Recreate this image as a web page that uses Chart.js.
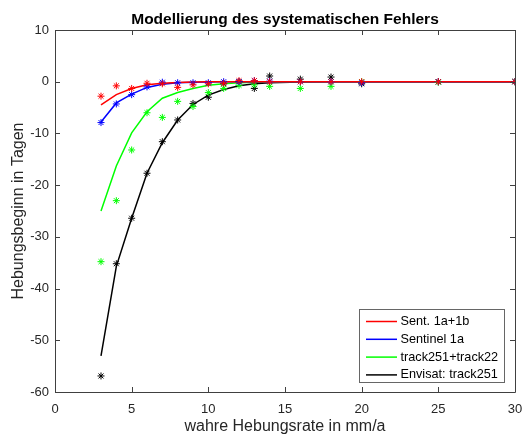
<!DOCTYPE html>
<html>
<head>
<meta charset="utf-8">
<script src="https://cdn.jsdelivr.net/npm/chart.js@4"></script>
<style>
  body { margin: 0; background: #fff; }
  #wrap { width: 523px; height: 436px; }
</style>
</head>
<body>
<div id="wrap"><canvas id="grafico" width="523" height="436"></canvas></div>
<script>
// wahre Hebungsrate (mm/a)
var raten = [3, 4, 5, 6, 7, 8, 9, 10, 11, 12, 13, 14, 16, 18, 20, 25, 30];

// simulierte Werte (Sterne)
var sentAB    = [-2.8, -0.8, -1.3, -0.3, -0.4, -1.1, -0.6, -0.4, -0.3, 0.2, 0.2, 0, 0, 0, 0, 0, 0];
var sentA     = [-7.9, -4.3, -2.5, -1.0, -0.1, -0.2, -0.2, -0.2, 0, 0, 0.2, 0.1, 0, 0, -0.2, 0, 0];
var trackComb = [-34.8, -23, -13.2, -6.0, -6.9, -3.8, -4.8, -2.1, -1.3, -0.7, -0.6, -0.9, -1.3, -0.9, 0, -0.1, 0];
var envisat   = [-56.9, -35.2, -26.4, -17.7, -11.6, -7.4, -4.2, -3.0, -0.4, 0, -1.3, 1.1, 0.5, 0.9, -0.4, 0, 0];

// Modellkurven
var fitSentAB    = [-4.5, -2.5, -1.3, -0.6, -0.3, -0.15, -0.07, -0.03, -0.02, -0.01, 0, 0, 0, 0, 0, 0, 0];
var fitSentA     = [-7.8, -4.1, -2.4, -1.1, -0.5, -0.2, -0.1, -0.05, -0.02, 0, 0, 0, 0, 0, 0, 0, 0];
var fitTrackComb = [-25, -16.3, -9.9, -5.8, -3.2, -2.1, -1.3, -0.7, -0.4, -0.2, -0.1, -0.05, 0, 0, 0, 0, 0];
var fitEnvisat   = [-53, -35.7, -26.4, -17.7, -11.8, -7.4, -4.4, -2.6, -1.5, -0.8, -0.4, -0.2, -0.05, 0, 0, 0, 0];

var namen = ['Sent. 1a+1b', 'Sentinel 1a', 'track251+track22', 'Envisat: track251'];
var farben = ['#ff0000', '#0000ff', '#00ff00', '#000000'];

var xTicks = [0, 5, 10, 15, 20, 25, 30];
var yTicks = [10, 0, -10, -20, -30, -40, -50, -60];

var FONT = '"Liberation Sans", Arial, sans-serif';

function punkte(ys) {
    return raten.map(function (x, i) { return { x: x, y: ys[i] }; });
}

var sterne = [sentAB, sentA, trackComb, envisat];
var kurven = [fitSentAB, fitSentA, fitTrackComb, fitEnvisat];
var datasets = [];
sterne.forEach(function (ys, i) {
    datasets.push({
        label: namen[i] + ' (sim)',
        data: punkte(ys),
        showLine: false,
        pointStyle: 'star',
        pointRadius: 3.5,
        pointBorderWidth: 1,
        borderColor: farben[i],
        backgroundColor: farben[i]
    });
});
kurven.forEach(function (ys, i) {
    datasets.push({
        label: namen[i],
        data: punkte(ys),
        showLine: true,
        pointRadius: 0,
        borderWidth: 1.5,
        borderColor: farben[i],
        backgroundColor: farben[i]
    });
});

// Rahmen + nach innen zeigende Ticks (MATLAB-Stil)
var rahmen = {
    id: 'rahmen',
    afterDatasetsDraw: function (chart) {
        var c = chart.ctx, a = chart.chartArea;
        var xs = chart.scales.x, ys = chart.scales.y;
        c.save();
        c.strokeStyle = '#404040';
        c.lineWidth = 1;
        c.beginPath();
        c.rect(Math.round(a.left) + 0.5, Math.round(a.top) + 0.5,
               Math.round(a.right - a.left), Math.round(a.bottom - a.top));
        xTicks.forEach(function (v) {
            var px = Math.round(xs.getPixelForValue(v)) + 0.5;
            c.moveTo(px, a.bottom); c.lineTo(px, a.bottom - 5);
            c.moveTo(px, a.top); c.lineTo(px, a.top + 5);
        });
        yTicks.forEach(function (v) {
            var py = Math.round(ys.getPixelForValue(v)) + 0.5;
            c.moveTo(a.left, py); c.lineTo(a.left + 5, py);
            c.moveTo(a.right, py); c.lineTo(a.right - 5, py);
        });
        c.stroke();
        c.restore();
    },
    afterDraw: function (chart) {
        // Legende im Diagramm unten rechts
        var c = chart.ctx;
        var bx = 359.5, by = 309.5, bw = 145, bh = 73;
        c.save();
        c.fillStyle = '#fff';
        c.fillRect(bx, by, bw, bh);
        c.strokeStyle = '#666';
        c.lineWidth = 1;
        c.strokeRect(bx, by, bw, bh);
        c.font = '12.7px ' + FONT;
        c.textBaseline = 'middle';
        namen.forEach(function (n, i) {
            var y = 321.5 + i * 17.8;
            c.strokeStyle = farben[i];
            c.lineWidth = 1.5;
            c.beginPath();
            c.moveTo(366, y); c.lineTo(397, y);
            c.stroke();
            c.fillStyle = '#000';
            c.fillText(n, 400.5, y);
        });
        c.restore();
    }
};

var ctx = document.getElementById('grafico').getContext('2d');
var myChart = new Chart(ctx, {
    type: 'scatter',
    data: { datasets: datasets },
    plugins: [rahmen],
    options: {
        responsive: false,
        animation: false,
        layout: { padding: { left: 0, right: 0, top: 0, bottom: 0 } },
        plugins: {
            legend: { display: false },
            tooltip: { enabled: false },
            title: {
                display: true,
                fullSize: false,
                text: 'Modellierung des systematischen Fehlers',
                color: '#000',
                font: { family: FONT, size: 15.5, weight: 'bold', lineHeight: 1.2 },
                padding: { top: 10, bottom: 1.4 }
            }
        },
        scales: {
            x: {
                type: 'linear',
                min: 0, max: 30,
                afterBuildTicks: function (s) { s.ticks = xTicks.map(function (v) { return { value: v }; }); },
                afterFit: function (s) { s.height = 44; s.paddingRight = 8; },
                grid: { display: false, drawTicks: false },
                border: { display: false },
                ticks: { color: '#262626', padding: 10, font: { family: FONT, size: 13 } },
                title: {
                    display: true,
                    text: 'wahre Hebungsrate in mm/a',
                    color: '#262626',
                    font: { family: FONT, size: 16, lineHeight: 1.2 },
                    padding: { top: 0, bottom: 0 }
                }
            },
            y: {
                type: 'linear',
                min: -60, max: 10,
                afterBuildTicks: function (s) { s.ticks = yTicks.slice().reverse().map(function (v) { return { value: v }; }); },
                afterFit: function (s) { s.width = 55; },
                grid: { display: false, drawTicks: false },
                border: { display: false },
                ticks: { color: '#262626', padding: 6, font: { family: FONT, size: 13 } },
                title: {
                    display: true,
                    text: 'Hebungsbeginn in Tagen',
                    color: '#262626',
                    font: { family: FONT, size: 16, lineHeight: 1.2 },
                    padding: { top: 9, bottom: 0 }
                }
            }
        }
    }
});
</script>
</body>
</html>
